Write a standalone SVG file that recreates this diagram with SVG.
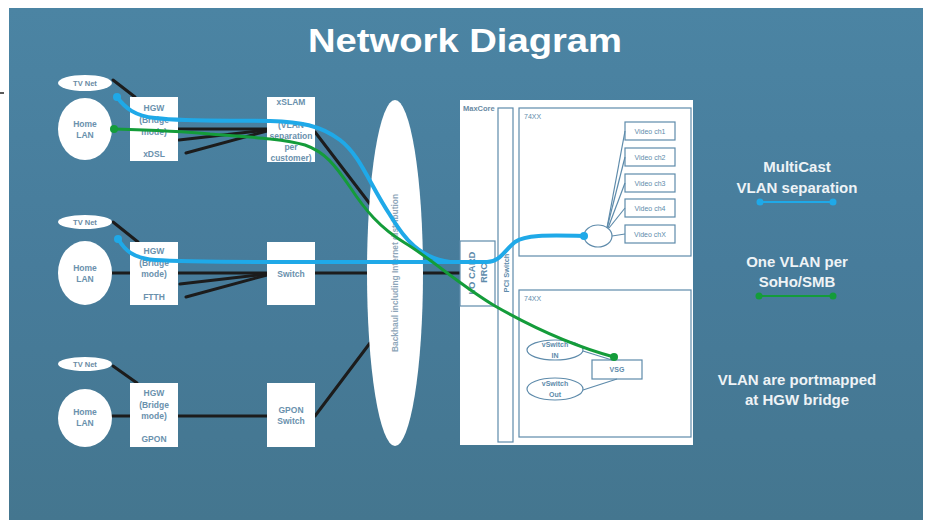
<svg xmlns="http://www.w3.org/2000/svg" width="930" height="520" viewBox="0 0 930 520">
<defs>
<linearGradient id="bg" x1="0" y1="0" x2="0" y2="1">
<stop offset="0" stop-color="#4b84a3"/>
<stop offset="0.5" stop-color="#477c9b"/>
<stop offset="1" stop-color="#44768f"/>
</linearGradient>
<style>
text{font-family:"Liberation Sans",Arial,sans-serif;font-weight:bold}
.wh{fill:#ffffff}
.blk{stroke:#1c1c1c;stroke-width:3;fill:none;stroke-linecap:round}
.lbl{fill:#6a91ad;font-size:8.5px;text-anchor:middle}
.sm{fill:#6a8aa3;font-size:7.5px;text-anchor:middle}
.in{fill:none;stroke:#5e8bab;stroke-width:1.2}
.inl{stroke:#5e8bab;stroke-width:1.2;fill:none}
.it{fill:#5e8bab;font-size:7px;text-anchor:middle;font-weight:normal}
.rt{fill:#eef3f6;font-size:15px;text-anchor:middle}
.blue{stroke:#1fa9e8;stroke-width:4;fill:none;stroke-linecap:round}
.green{stroke:#149c3a;stroke-width:3;fill:none;stroke-linecap:round}
</style>
</defs>
<rect x="0" y="0" width="930" height="520" fill="#ffffff"/>
<rect x="9" y="8" width="914" height="512" fill="url(#bg)"/>
<line x1="0" y1="93" x2="4" y2="93" stroke="#222" stroke-width="1.5"/>
<text x="465" y="52" textLength="314" lengthAdjust="spacingAndGlyphs" style="font-size:33px;fill:#ffffff;text-anchor:middle">Network Diagram</text>

<g id="connectors">
<line class="blk" x1="113" y1="80" x2="135" y2="97"/>
<line class="blk" x1="178" y1="129" x2="267" y2="129"/>
<line class="blk" x1="179" y1="140" x2="267" y2="130"/>
<line class="blk" x1="186" y1="153" x2="267" y2="131"/>
<line class="blk" x1="315" y1="132" x2="370" y2="204"/>
<line class="blk" x1="113" y1="222" x2="138" y2="242"/>
<line class="blk" x1="112" y1="273" x2="130" y2="273"/>
<line class="blk" x1="178" y1="273" x2="267" y2="273"/>
<line class="blk" x1="180" y1="284" x2="267" y2="274"/>
<line class="blk" x1="186" y1="297" x2="267" y2="275"/>
<line class="blk" x1="315" y1="273" x2="461" y2="273"/>
<line class="blk" x1="113" y1="366" x2="137" y2="383"/>
<line class="blk" x1="112" y1="416" x2="130" y2="416"/>
<line class="blk" x1="178" y1="416" x2="267" y2="416"/>
<line class="blk" x1="315" y1="416" x2="370" y2="343"/>
</g>

<g id="tvnet1"><ellipse class="wh" cx="85" cy="83" rx="27" ry="8"/><text class="sm" x="85" y="86">TV Net</text></g>
<g id="homelan1"><ellipse class="wh" cx="85" cy="129" rx="27" ry="31"/><text class="lbl" x="85" y="127">Home</text><text class="lbl" x="85" y="138">LAN</text></g>
<g id="hgw1"><rect class="wh" x="130" y="97" width="48" height="64"/><text class="lbl" x="154" y="111">HGW</text><text class="lbl" x="154" y="123">(Bridge</text><text class="lbl" x="154" y="135">mode)</text><text class="lbl" x="154" y="157">xDSL</text></g>
<g id="xslam"><rect class="wh" x="267" y="97" width="48" height="65"/><text class="lbl" x="291" y="105">xSLAM</text><text class="lbl" x="291" y="128">(VLAN</text><text class="lbl" x="291" y="139">separation</text><text class="lbl" x="291" y="150">per</text><text class="lbl" x="291" y="161">customer)</text></g>

<g id="tvnet2"><ellipse class="wh" cx="85" cy="222" rx="27" ry="7"/><text class="sm" x="85" y="225">TV Net</text></g>
<g id="homelan2"><ellipse class="wh" cx="85" cy="273" rx="27" ry="32"/><text class="lbl" x="85" y="271">Home</text><text class="lbl" x="85" y="282">LAN</text></g>
<g id="hgw2"><rect class="wh" x="130" y="242" width="48" height="63"/><text class="lbl" x="154" y="254">HGW</text><text class="lbl" x="154" y="266">(Bridge</text><text class="lbl" x="154" y="277">mode)</text><text class="lbl" x="154" y="300">FTTH</text></g>
<g id="switch"><rect class="wh" x="267" y="242" width="48" height="63"/><text class="lbl" x="291" y="277">Switch</text></g>

<g id="tvnet3"><ellipse class="wh" cx="85" cy="364" rx="27" ry="7"/><text class="sm" x="85" y="367">TV Net</text></g>
<g id="homelan3"><ellipse class="wh" cx="85" cy="418" rx="27" ry="29"/><text class="lbl" x="85" y="415">Home</text><text class="lbl" x="85" y="426">LAN</text></g>
<g id="hgw3"><rect class="wh" x="130" y="383" width="48" height="64"/><text class="lbl" x="154" y="396">HGW</text><text class="lbl" x="154" y="408">(Bridge</text><text class="lbl" x="154" y="419">mode)</text><text class="lbl" x="154" y="442">GPON</text></g>
<g id="gponswitch"><rect class="wh" x="267" y="383" width="48" height="64"/><text class="lbl" x="291" y="413">GPON</text><text class="lbl" x="291" y="424">Switch</text></g>

<g id="backhaul"><ellipse class="wh" cx="395" cy="273" rx="28" ry="173"/><text x="0" y="0" transform="translate(398,273) rotate(-90)" textLength="158" lengthAdjust="spacingAndGlyphs" style="fill:#8ea6b9;font-size:8.5px;text-anchor:middle">Backhaul including Internet distribution</text></g>

<g id="maxcore"><rect class="wh" x="460" y="100" width="233" height="345"/><text x="463" y="111" style="fill:#6a8aa3;font-size:7.5px">MaxCore</text></g>
<g id="iocard"><rect class="in" x="460" y="241" width="35" height="65"/><text class="it" transform="translate(475,273) rotate(-90)" style="font-size:9.5px;font-weight:bold">I/O CARD</text><text class="it" transform="translate(487,273) rotate(-90)" style="font-size:9px;font-weight:bold">RRC</text></g>
<g id="pciswitch"><rect class="in" x="498" y="108" width="15" height="334"/><text class="it" transform="translate(509,273) rotate(-90)" style="font-size:7.5px;font-weight:bold">PCI Switch</text></g>

<g id="x74upper"><rect class="in" x="519" y="108" width="172" height="148"/><text class="it" x="524" y="119" style="text-anchor:start">74XX</text></g>
<g id="x74lower"><rect class="in" x="519" y="290" width="172" height="147"/><text class="it" x="524" y="301" style="text-anchor:start">74XX</text></g>

<g id="videolinks">
<line class="inl" x1="607" y1="228" x2="625" y2="131"/>
<line class="inl" x1="607" y1="228" x2="625" y2="157"/>
<line class="inl" x1="608" y1="228" x2="625" y2="183"/>
<line class="inl" x1="609" y1="228" x2="625" y2="208"/>
<line class="inl" x1="612" y1="236" x2="625" y2="234"/>
</g>
<g id="ch1"><rect class="in" x="625" y="122" width="50" height="18"/><text class="it" x="650" y="134">Video ch1</text></g>
<g id="ch2"><rect class="in" x="625" y="148" width="50" height="18"/><text class="it" x="650" y="160">Video ch2</text></g>
<g id="ch3"><rect class="in" x="625" y="174" width="50" height="18"/><text class="it" x="650" y="186">Video ch3</text></g>
<g id="ch4"><rect class="in" x="625" y="199" width="50" height="18"/><text class="it" x="650" y="211">Video ch4</text></g>
<g id="chx"><rect class="in" x="625" y="225" width="50" height="18"/><text class="it" x="650" y="237">Video chX</text></g>
<g id="mcast"><ellipse cx="598" cy="236" rx="14" ry="11" fill="#ffffff" stroke="#5e8bab" stroke-width="1.2"/></g>

<g id="vswlinks">
<line class="inl" x1="583" y1="351" x2="612" y2="360"/>
<line class="inl" x1="583" y1="390" x2="617" y2="379"/>
</g>
<g id="vswin"><ellipse class="in" cx="555" cy="350" rx="28" ry="10"/><text class="it" x="555" y="347" style="font-weight:bold">vSwitch</text><text class="it" x="555" y="358" style="font-weight:bold">IN</text></g>
<g id="vswout"><ellipse class="in" cx="555" cy="389" rx="28" ry="11"/><text class="it" x="555" y="386" style="font-weight:bold">vSwitch</text><text class="it" x="555" y="397" style="font-weight:bold">Out</text></g>
<g id="vsg"><rect class="in" x="592" y="360" width="50" height="19"/><text class="it" x="617" y="372" style="font-weight:bold">VSG</text></g>

<g id="flows">
<path class="blue" d="M118,239 C125,250 132,258 155,260 C200,263 300,262 450,262"/>
<path class="blue" d="M117,97 C125,108 135,116 155,118 C190,122 230,120 270,121 C300,122 320,125 340,140 C360,155 370,185 390,215 C405,240 420,258 450,262 L487,262 C500,262 505,250 515,242 C525,235 545,235 584,236"/>
<circle cx="117" cy="97" r="4" fill="#1fa9e8"/>
<circle cx="118" cy="239" r="4" fill="#1fa9e8"/>
<circle cx="584" cy="236" r="4" fill="#1fa9e8"/>
<path class="green" d="M114,129 C150,130 180,131 210,134 C250,137 285,139 305,145 C325,152 335,165 350,187 C365,210 380,228 405,243 C430,258 460,285 495,306 C530,326 570,345 614,357"/>
<circle cx="114" cy="129" r="4" fill="#149c3a"/>
<circle cx="614" cy="357" r="4" fill="#149c3a"/>
</g>

<g id="legend">
<text class="rt" x="797" y="172">MultiCast</text>
<text class="rt" x="797" y="193">VLAN separation</text>
<line x1="760" y1="202" x2="833" y2="202" stroke="#1fa9e8" stroke-width="2"/>
<circle cx="760" cy="202" r="3.5" fill="#1fa9e8"/><circle cx="833" cy="202" r="3.5" fill="#1fa9e8"/>
<text class="rt" x="797" y="267">One VLAN per</text>
<text class="rt" x="797" y="287">SoHo/SMB</text>
<line x1="759" y1="296" x2="833" y2="296" stroke="#149c3a" stroke-width="2"/>
<circle cx="759" cy="296" r="3.5" fill="#149c3a"/><circle cx="833" cy="296" r="3.5" fill="#149c3a"/>
<text class="rt" x="797" y="385">VLAN are portmapped</text>
<text class="rt" x="797" y="405">at HGW bridge</text>
</g>
</svg>
